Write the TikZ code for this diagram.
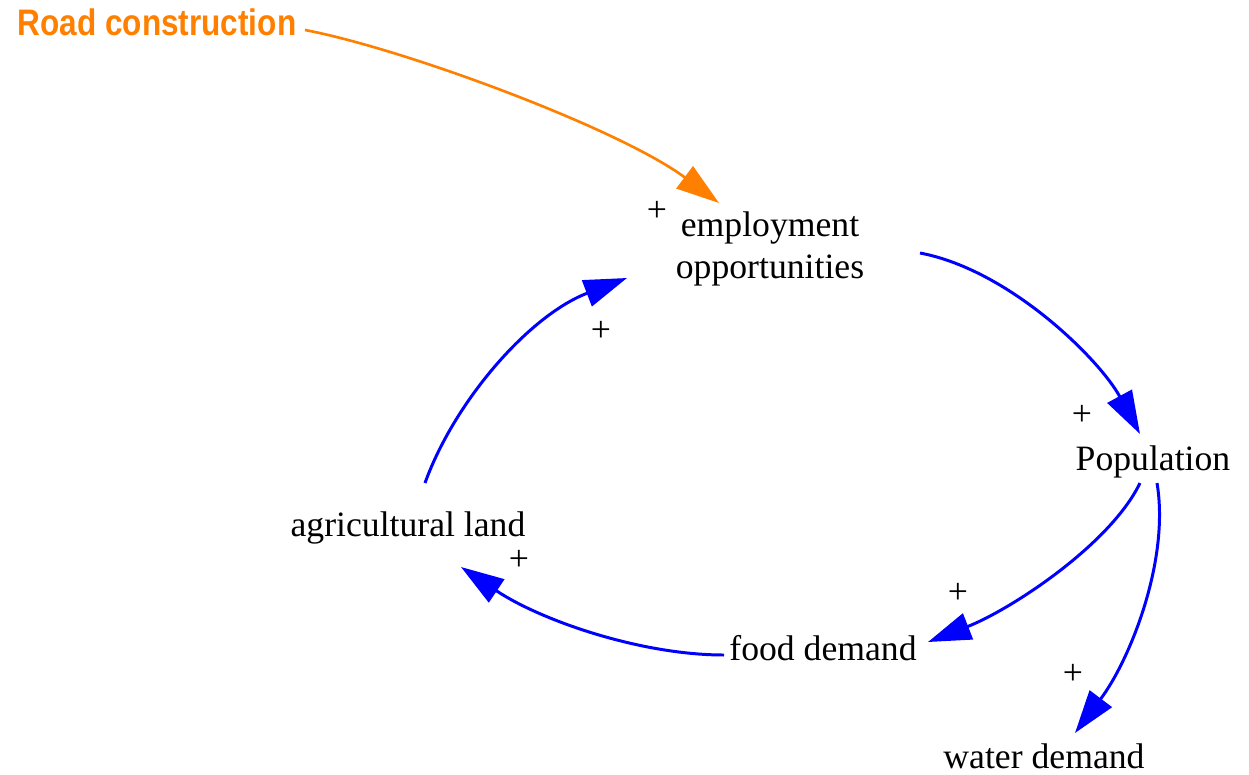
\documentclass[tikz,border=0pt]{standalone}
\usepackage{fontspec}
\setmainfont{Liberation Serif}
\newfontfamily\cldserif{Liberation Serif}
\newfontfamily\roadfont{Liberation Sans}
\usetikzlibrary{arrows.meta}
\definecolor{cldblue}{RGB}{0,0,255}
\definecolor{cldorange}{RGB}{255,128,0}
\tikzset{
  var/.style={font=\cldserif\fontsize{20.3}{23.5}\selectfont, align=center, inner sep=0pt},
  basevar/.style={font=\cldserif\fontsize{20.3}{23.5}\selectfont, inner sep=0pt, anchor=base},
  pol/.style={font=\cldserif\fontsize{20.3}{23.5}\selectfont, inner sep=0pt},
  link/.style={draw=cldblue, line width=1.7pt, -{Triangle[length=0.86cm,width=0.55cm]}, fill=none},
  olink/.style={draw=cldorange, line width=1.5pt, -{Triangle[length=0.86cm,width=0.55cm]}, fill=none},
}
\begin{document}
\begin{tikzpicture}[x=0.02cm,y=-0.02cm]
\useasboundingbox (0,0) rectangle (1249,775);
\node[inner sep=0pt, text=cldorange] (road) at (157,22) {\scalebox{0.855}[1]{\roadfont\bfseries\fontsize{21}{24}\selectfont Road construction}};
\node[var] (emp) at (770,249) {employment\\opportunities};
\node[var] (pop) at (1153,462) {Population};
\node[var] (agri) at (408,528) {agricultural land};
\node[var] (food) at (823,648) {food demand};
\node[basevar] (water) at (1044,768) {water demand};
\node[pol] (p1) at (657,211) {+};
\node[pol] (p2) at (601,331) {+};
\node[pol] (p3) at (1082,415) {+};
\node[pol] (p4) at (519,560) {+};
\node[pol] (p5) at (958,593) {+};
\node[pol] (p6) at (1073,674) {+};
\draw[olink] ([shift={(148,8)}]road.center) .. controls (405,49) and (620,129) .. ([shift={(-51,-46)}]emp.center);
\draw[link] ([shift={(150,4)}]emp.center) .. controls (1010,270) and (1100,360) .. ([shift={(-13,-28)}]pop.center);
\draw[link] ([shift={(-13,21)}]pop.center) .. controls (1110,545) and (1010,610) .. ([shift={(105,-6)}]food.center);
\draw[link] ([shift={(4,21)}]pop.center) .. controls (1170,560) and (1130,660) .. ([shift={(31,-35)}]water.base);
\draw[link] ([shift={(-99,7)}]food.center) .. controls (640,655) and (540,620) .. ([shift={(53,39)}]agri.center);
\draw[link] ([shift={(17,-45)}]agri.center) .. controls (455,400) and (530,315) .. ([shift={(-143,29)}]emp.center);
\end{tikzpicture}
\end{document}
